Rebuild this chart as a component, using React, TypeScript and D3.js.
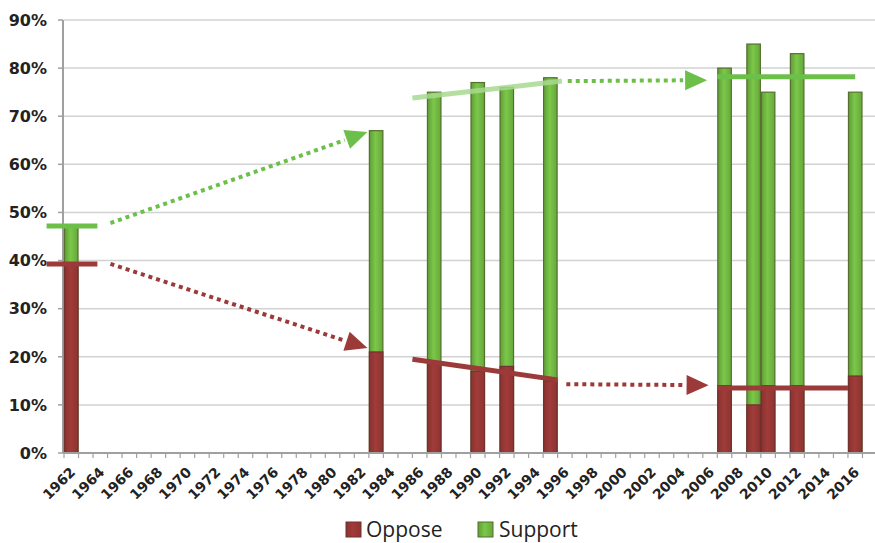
import * as d3 from "d3";

const firstYear = 1962;
const lastYear = 2017;
const yearLabels = [
  "1962", "1964", "1966", "1968", "1970", "1972", "1974", "1976", "1978",
  "1980", "1982", "1984", "1986", "1988", "1990", "1992", "1994", "1996",
  "1998", "2000", "2002", "2004", "2006", "2008", "2010", "2012", "2014", "2016",
];
const yTicks = [0, 10, 20, 30, 40, 50, 60, 70, 80, 90];

// survey years and results (%)
const surveyYears = [1962, 1983, 1987, 1990, 1992, 1995, 2007, 2009, 2010, 2012, 2016];
const support = [47, 67, 75, 77, 76, 78, 80, 85, 75, 83, 75];
const oppose = [39, 21, 19, 17, 18, 15, 14, 10, 14, 14, 16];

// annotation lines, in year / percent units
type Seg = { x1: number; y1: number; x2: number; y2: number; kind: "green" | "light" | "red" };
const trendLines: Seg[] = [
  { x1: 1960.8, y1: 47.2, x2: 1964.3, y2: 47.2, kind: "green" },
  { x1: 1960.8, y1: 39.3, x2: 1964.3, y2: 39.3, kind: "red" },
  { x1: 1986.0, y1: 73.8, x2: 1996.3, y2: 77.3, kind: "light" },
  { x1: 1986.0, y1: 19.5, x2: 1996.0, y2: 15.2, kind: "red" },
  { x1: 2007.0, y1: 78.2, x2: 2016.5, y2: 78.2, kind: "green" },
  { x1: 2007.0, y1: 13.5, x2: 2016.0, y2: 13.5, kind: "red" },
];
const arrows: Seg[] = [
  { x1: 1965.2, y1: 47.8, x2: 1982.9, y2: 66.7, kind: "green" },
  { x1: 1965.2, y1: 39.3, x2: 1982.9, y2: 21.8, kind: "red" },
  { x1: 1996.7, y1: 77.3, x2: 2006.3, y2: 77.5, kind: "green" },
  { x1: 1996.6, y1: 14.3, x2: 2006.4, y2: 14.1, kind: "red" },
];

const colors = {
  green: "#6cc04a",
  light: "#a8d98f",
  red: "#9b3a38",
};

export default function App() {
  const width = 875;
  const height = 543;
  const left = 64;
  const right = 877;
  const top = 20;
  const bottom = 453;

  const years = d3.range(firstYear, lastYear + 1);
  const x = d3.scaleBand<number>().domain(years).range([left, right]).padding(0);
  const bw = x.bandwidth();
  // continuous year position (band start = integer year)
  const xc = d3.scaleLinear().domain([firstYear, lastYear + 1]).range([left, right]);
  const y = d3.scaleLinear().domain([0, 90]).range([bottom, top]);

  const bars = surveyYears.map((yr, i) => ({ yr, s: support[i], o: oppose[i] }));

  const arrowParts = arrows.map((a) => {
    const sx = xc(a.x1), sy = y(a.y1), tx = xc(a.x2), ty = y(a.y2);
    const len = Math.hypot(tx - sx, ty - sy);
    const ux = (tx - sx) / len, uy = (ty - sy) / len;
    const hl = 22, hw = 10;
    const bx = tx - ux * hl, by = ty - uy * hl;
    const pts = [
      [tx, ty],
      [bx - uy * hw, by + ux * hw],
      [bx + uy * hw, by - ux * hw],
    ];
    return { a, sx, sy, bx: tx - ux * (hl + 2), by: ty - uy * (hl + 2), pts };
  });

  return (
    <div style={{ position: "fixed", left: 0, top: 0, background: "#fff" }}>
      <svg width={width} height={height} style={{ display: "block" }}>
        <defs>
          <linearGradient id="gGreen" x1="0" x2="1" y1="0" y2="0">
            <stop offset="0" stopColor="#5f9e37" />
            <stop offset="0.45" stopColor="#7cc749" />
            <stop offset="1" stopColor="#65a83b" />
          </linearGradient>
          <linearGradient id="gRed" x1="0" x2="1" y1="0" y2="0">
            <stop offset="0" stopColor="#8a3230" />
            <stop offset="0.45" stopColor="#a03c3a" />
            <stop offset="1" stopColor="#8e3331" />
          </linearGradient>
        </defs>

        {/* gridlines */}
        {yTicks.slice(1).map((t) => (
          <line key={t} x1={left} x2={right} y1={y(t)} y2={y(t)} stroke="#d2d2d2" strokeWidth={1.5} />
        ))}

        {/* y axis */}
        <line x1={left - 1} x2={left - 1} y1={top} y2={bottom} stroke="#a0a0a0" strokeWidth={2} />
        {yTicks.map((t) => (
          <g key={t}>
            <line x1={left - 6} x2={left - 1} y1={y(t)} y2={y(t)} stroke="#a0a0a0" strokeWidth={1.5} />
            <text
              x={47}
              y={y(t)}
              dy="0.36em"
              textAnchor="end"
              fontFamily="DejaVu Sans"
              fontWeight="bold"
              fontSize={16}
              fill="#222"
            >
              {t}%
            </text>
          </g>
        ))}

        {/* bars: support behind, oppose in front */}
        {bars.map((b) => (
          <rect
            key={"s" + b.yr}
            x={x(b.yr)! + 0.5}
            y={y(b.s)}
            width={bw - 1}
            height={bottom - y(b.s)}
            fill="url(#gGreen)"
            stroke="#556f2e"
            strokeWidth={1.2}
          />
        ))}
        {bars.map((b) => (
          <rect
            key={"o" + b.yr}
            x={x(b.yr)! + 0.5}
            y={y(b.o)}
            width={bw - 1}
            height={bottom - y(b.o)}
            fill="url(#gRed)"
            stroke="#72302e"
            strokeWidth={1.2}
          />
        ))}

        {/* x axis */}
        <line x1={left - 1} x2={right} y1={bottom} y2={bottom} stroke="#a0a0a0" strokeWidth={2} />
        {years.map((yr) => (
          <line key={yr} x1={x(yr)!} x2={x(yr)!} y1={bottom} y2={bottom + 5} stroke="#a0a0a0" strokeWidth={1.2} />
        ))}
        {yearLabels.map((lab) => {
          const cx = x(+lab)! + bw / 2 + 5;
          const cy = 473;
          return (
            <text
              key={lab}
              x={cx}
              y={cy}
              transform={`rotate(-45 ${cx} ${cy})`}
              textAnchor="end"
              fontFamily="DejaVu Sans"
              fontWeight="bold"
              fontSize={14}
              fill="#222"
            >
              {lab}
            </text>
          );
        })}

        {/* trend lines */}
        {trendLines.map((l, i) => (
          <line
            key={i}
            x1={xc(l.x1)}
            x2={xc(l.x2)}
            y1={y(l.y1)}
            y2={y(l.y2)}
            stroke={colors[l.kind]}
            strokeOpacity={l.kind === "light" ? 0.85 : 1}
            strokeWidth={5}
          />
        ))}

        {/* dotted arrows */}
        {arrowParts.map((p, i) => (
          <g key={i}>
            <line
              x1={p.sx}
              y1={p.sy}
              x2={p.bx}
              y2={p.by}
              stroke={colors[p.a.kind]}
              strokeWidth={4}
              strokeDasharray="4 4"
            />
            <polygon points={p.pts.map((q) => q.join(",")).join(" ")} fill={colors[p.a.kind]} />
          </g>
        ))}

        {/* legend */}
        <rect x={346} y={522} width={15} height={15} fill="url(#gRed)" stroke="#72302e" strokeWidth={1} />
        <text x={366} y={537} fontFamily="Open Sans" fontSize={21} fill="#222">
          Oppose
        </text>
        <rect x={478} y={522} width={15} height={15} fill="url(#gGreen)" stroke="#556f2e" strokeWidth={1} />
        <text x={499} y={537} fontFamily="Open Sans" fontSize={21} fill="#222">
          Support
        </text>
      </svg>
    </div>
  );
}
